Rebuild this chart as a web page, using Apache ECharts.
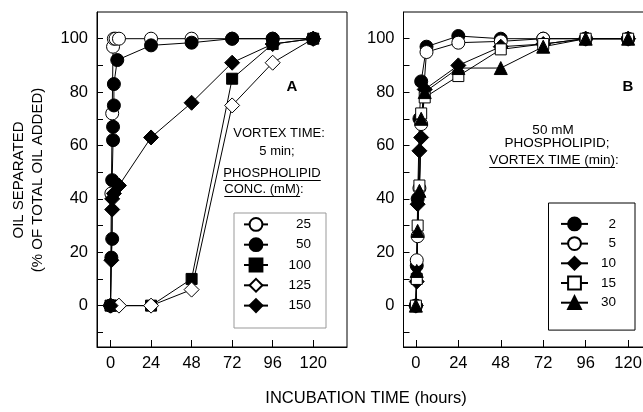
<!DOCTYPE html>
<html><head><meta charset="utf-8">
<script src="https://cdn.jsdelivr.net/npm/echarts@6/dist/echarts.min.js"></script>
<style>html,body{margin:0;padding:0;background:#fff}#c{width:643px;height:412px}</style>
</head><body><div id="c"></div>
<script>
const FONT = '"Liberation Sans", Arial, sans-serif';

// ---- Panel A: vortex 5 min, phospholipid concentration (mM) ----
const concNames = ['25', '50', '100', '125', '150'];
const a25  = [[0,0],[0.5,42],[1,72],[1.5,97],[2,100],[3,100],[5,100],[24,100],[48,100],[72,100],[96,100],[120,100]];
const a50  = [[0,0],[0.5,18],[1,25],[1,47],[1.5,62],[1.5,67],[2,75],[2,83],[4,92],[24,97.5],[48,98.5],[72,100],[96,100],[120,100]];
const a100 = [[0,0],[2,0],[24,0],[48,10],[72,85],[96,98],[120,100]];
const a125 = [[0,0],[5,0],[24,0],[48,6],[72,75],[96,91],[120,100]];
const a150 = [[0,0],[0.5,17],[1,36],[1,40],[2,42],[5,45],[24,63],[48,76],[72,91],[96,98],[120,100]];

// ---- Panel B: 50 mM phospholipid, vortex time (min) ----
const vortexNames = ['2', '5', '10', '15', '30'];
const b2  = [[0,0],[0.5,15],[1,40],[2,70],[3,84],[6,97],[24,101],[48,100],[72,100],[96,100],[120,100]];
const b5  = [[0,0],[0.5,17],[1,26],[2,44],[3,68],[6,95],[24,98.5],[48,99],[72,100],[96,100],[120,100]];
const b10 = [[0,0],[0.5,9],[1,38],[2,58],[3,63],[5,81],[24,90],[48,97],[72,98],[96,100],[120,100]];
const b15 = [[0,0],[0.5,10],[1,30],[2,45],[3,72],[5,78],[24,86],[48,96],[72,98],[96,100],[120,100]];
const b30 = [[0,0],[0.5,13],[1,28],[2,43],[3,70],[5,80],[24,89],[48,89],[72,97],[96,100],[120,100]];

const xTicks = [0, 24, 48, 72, 96, 120];
const yLabels = [0, 20, 40, 60, 80, 100];
const yTicks = [-10, 0, 10, 20, 30, 40, 50, 60, 70, 80, 90, 100];

const seriesA = [
  {name: concNames[0], data: a25,  symbol: 'circle',  size: 13, fill: '#fff'},
  {name: concNames[1], data: a50,  symbol: 'circle',  size: 13, fill: '#000'},
  {name: concNames[2], data: a100, symbol: 'rect',    size: 11, fill: '#000'},
  {name: concNames[3], data: a125, symbol: 'diamond', size: 15, fill: '#fff'},
  {name: concNames[4], data: a150, symbol: 'diamond', size: 15, fill: '#000'}
];
const seriesB = [
  {name: vortexNames[0], data: b2,  symbol: 'circle',   size: 13, fill: '#000'},
  {name: vortexNames[1], data: b5,  symbol: 'circle',   size: 13, fill: '#fff'},
  {name: vortexNames[2], data: b10, symbol: 'diamond',  size: 15, fill: '#000'},
  {name: vortexNames[3], data: b15, symbol: 'rect',     size: 11, fill: '#fff'},
  {name: vortexNames[4], data: b30, symbol: 'triangle', size: 13, fill: '#000'}
];

function mk(s, idx) {
  return {
    type: 'line', name: s.name, data: s.data, xAxisIndex: idx, yAxisIndex: idx,
    symbol: s.symbol, symbolSize: s.size, showSymbol: true, showAllSymbol: true,
    itemStyle: {color: s.fill, borderColor: '#000', borderWidth: 1},
    lineStyle: {color: '#000', width: 1},
    emphasis: {disabled: true}, animation: false, clip: false
  };
}

function xAx(grid, min, max) {
  return {
    type: 'value', gridIndex: grid, min: min, max: max,
    axisLine: {show: true, onZero: false, lineStyle: {color: '#000', width: 1}},
    axisTick: {show: true, inside: true, length: 7, customValues: xTicks, lineStyle: {color: '#000'}},
    axisLabel: {show: true, customValues: xTicks, color: '#000', fontSize: 16.5, fontFamily: FONT, margin: 8},
    splitLine: {show: false}
  };
}
function yAx(grid) {
  return {
    type: 'value', gridIndex: grid, min: -15.5, max: 110,
    axisLine: {show: true, onZero: false, lineStyle: {color: '#000', width: 1}},
    axisTick: {show: true, inside: true, length: 6, customValues: yTicks, lineStyle: {color: '#000'}},
    axisLabel: {show: true, customValues: yLabels, color: '#000', fontSize: 16.5, fontFamily: FONT, margin: 9},
    splitLine: {show: false}
  };
}

const richN = (w) => ({fontSize: 13.5, fontFamily: FONT, color: '#000', width: w, align: 'right'});

const ctx = document.createElement('canvas').getContext('2d');
function tw(text, font) { ctx.font = font; return ctx.measureText(text).width; }

const txtFont = (sz, bold) => (bold ? 'bold ' : '') + sz + 'px ' + FONT;
const notes = [
  {t: 'A', x: 292, y: 87, f: txtFont(15, true)},
  {t: 'VORTEX TIME:', x: 279, y: 133, f: txtFont(13)},
  {t: '5 min;', x: 277, y: 151.5, f: txtFont(13)},
  {t: 'PHOSPHOLIPID', x: 272, y: 173, f: txtFont(13), u: 7.5},
  {t: 'CONC. (mM):', x: 264, y: 189, f: txtFont(13), u: 7.5},
  {t: 'B', x: 628, y: 87, f: txtFont(15, true)},
  {t: '50 mM', x: 553, y: 130, f: txtFont(13.5)},
  {t: 'PHOSPHOLIPID;', x: 557, y: 143.5, f: txtFont(13.5)},
  {t: 'VORTEX TIME (min):', x: 554, y: 160.5, f: txtFont(13.5), u: 7}
];
const graphics = [];
notes.forEach(n => {
  graphics.push({type: 'text', x: n.x, y: n.y, silent: true,
    style: {text: n.t, font: n.f, fill: '#000', align: 'center', verticalAlign: 'middle'}});
  if (n.u) {
    const w = tw(n.t.replace(/[:;]$/, ''), n.f);
    const full = tw(n.t, n.f);
    const x0 = n.x - full / 2;
    graphics.push({type: 'line', silent: true,
      shape: {x1: x0, y1: n.y + n.u, x2: x0 + w, y2: n.y + n.u},
      style: {stroke: '#000', lineWidth: 1}});
  }
});
graphics.push({type: 'text', x: 19, y: 180, rotation: Math.PI / 2, silent: true,
  style: {text: 'OIL SEPARATED', font: txtFont(15), fill: '#000', align: 'center', verticalAlign: 'middle'}});
graphics.push({type: 'text', x: 38, y: 180, rotation: Math.PI / 2, silent: true,
  style: {text: '(% OF TOTAL OIL ADDED)', font: txtFont(15), fill: '#000', align: 'center', verticalAlign: 'middle'}});
graphics.push({type: 'text', x: 366, y: 398, silent: true,
  style: {text: 'INCUBATION TIME (hours)', font: txtFont(16.5), fill: '#000', align: 'center', verticalAlign: 'middle'}});

const option = {
  backgroundColor: '#fff',
  animation: false,
  grid: [
    {left: 97, top: 12, width: 250, height: 335, show: true, borderColor: '#000', borderWidth: 1, backgroundColor: 'transparent', outerBoundsMode: 'none', containLabel: false},
    {left: 403.5, top: 12, width: 260, height: 335, show: true, borderColor: '#000', borderWidth: 1, backgroundColor: 'transparent', outerBoundsMode: 'none', containLabel: false}
  ],
  xAxis: [xAx(0, -8, 140), xAx(1, -7, 140)],
  yAxis: [yAx(0), yAx(1)],
  legend: [
    {data: concNames, orient: 'vertical', left: 234, top: 213, itemWidth: 24, itemHeight: 16, itemGap: 5.5,
     padding: [4, 15, 15, 9], borderColor: '#999', borderWidth: 1, backgroundColor: '#fff',
     selectedMode: false, formatter: n => '{n|' + n + '}', textStyle: {rich: {n: richN(38)}}},
    {data: vortexNames, orient: 'vertical', left: 548.5, top: 203, itemWidth: 27, itemHeight: 16, itemGap: 4.9,
     padding: [13.5, 19, 20, 11.5], borderColor: '#000', borderWidth: 1, backgroundColor: '#fff',
     selectedMode: false, formatter: n => '{n|' + n + '}', textStyle: {rich: {n: richN(23)}}}
  ],
  series: seriesA.map(s => mk(s, 0)).concat(seriesB.map(s => mk(s, 1))),
  graphic: graphics
};

const chart = echarts.init(document.getElementById('c'), null, {renderer: 'canvas'});
chart.setOption(option);
</script>
</body></html>
